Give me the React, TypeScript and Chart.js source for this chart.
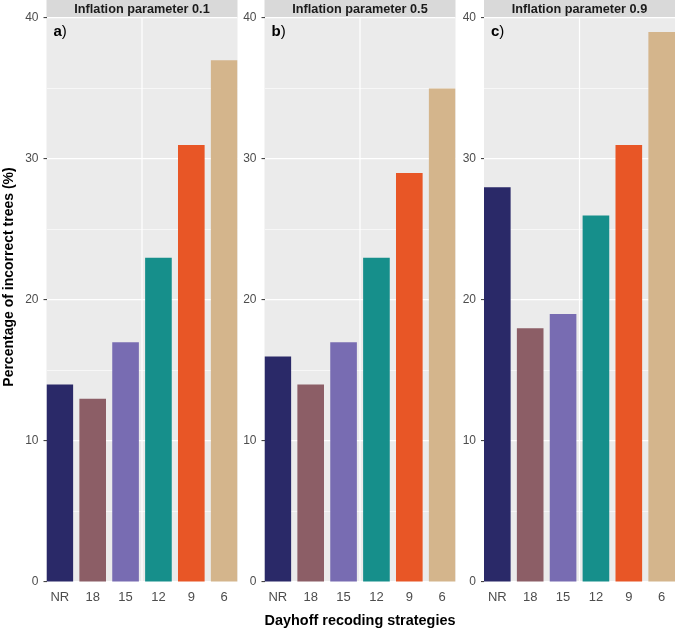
import React, { useEffect, useRef } from 'react';
import { Chart, registerables } from 'chart.js';

Chart.register(...registerables);

// ---------------- data ----------------
const categories = ['NR', '18', '15', '12', '9', '6'];
const panelTitles = ['Inflation parameter 0.1', 'Inflation parameter 0.5', 'Inflation parameter 0.9'];
const panelLetters = ['a', 'b', 'c'];
const valuesInfl01 = [14, 13, 17, 23, 31, 37];
const valuesInfl05 = [16, 14, 17, 23, 29, 35];
const valuesInfl09 = [28, 18, 19, 26, 31, 39];
const barColors = ['#2a2968', '#8c5e66', '#786cb2', '#168f8b', '#e85626', '#d4b58c'];
const yTickValues = [0, 5, 10, 15, 20, 25, 30, 35, 40];
const yAxisTitle = 'Percentage of incorrect trees (%)';
const xAxisTitle = 'Dayhoff recoding strategies';

const seriesByPanel = [valuesInfl01, valuesInfl05, valuesInfl09];

// ---------------- layout ----------------
const FONT = "'Liberation Sans', Arial, Helvetica, sans-serif";
const H = 632;
const PANEL_TOP = 18;
const PANEL_BOTTOM = 582;
const layouts = [
  { canvasLeft: 0, width: 238, axisWidth: 46.5, padRight: 0.5 },
  { canvasLeft: 238, width: 218, axisWidth: 26.5, padRight: 0.5 },
  { canvasLeft: 458, width: 217, axisWidth: 26, padRight: 0 },
];
const HALF_BAR = 0.405;

function makeFacetPlugin(idx: number) {
  return {
    id: 'facet' + idx,
    beforeDraw(chart: any) {
      const { ctx, chartArea: a } = chart;
      ctx.save();
      ctx.fillStyle = '#ebebeb';
      ctx.fillRect(a.left, a.top, a.right - a.left, a.bottom - a.top);
      ctx.fillStyle = '#d9d9d9';
      ctx.fillRect(a.left, 0, a.right - a.left, a.top);
      ctx.fillStyle = '#1a1a1a';
      ctx.font = `bold 12.7px ${FONT}`;
      ctx.textAlign = 'center';
      ctx.textBaseline = 'middle';
      ctx.fillText(panelTitles[idx], (a.left + a.right) / 2, a.top / 2 + 0.5);
      if (idx === 0) {
        ctx.translate(9, 277);
        ctx.rotate(-Math.PI / 2);
        ctx.fillStyle = '#000000';
        ctx.font = `bold 14px ${FONT}`;
        ctx.fillText(yAxisTitle, 0, 0);
      }
      ctx.restore();
    },
    beforeDatasetsDraw(chart: any) {
      const { ctx, chartArea: a } = chart;
      const x = chart.scales.x.getPixelForValue((categories.length - 1) / 2);
      ctx.save();
      ctx.strokeStyle = '#ffffff';
      ctx.lineWidth = 1.2;
      ctx.beginPath();
      ctx.moveTo(x, a.top);
      ctx.lineTo(x, a.bottom);
      ctx.stroke();
      ctx.restore();
    },
    afterDatasetsDraw(chart: any) {
      const { ctx, chartArea: a } = chart;
      ctx.save();
      ctx.fillStyle = '#000000';
      ctx.textAlign = 'left';
      ctx.textBaseline = 'middle';
      ctx.font = `bold 15px ${FONT}`;
      const letter = panelLetters[idx];
      const x0 = a.left + 7;
      ctx.fillText(letter, x0, 32);
      const w = ctx.measureText(letter).width;
      ctx.font = `15px ${FONT}`;
      ctx.fillText(')', x0 + w, 32);
      ctx.restore();
    },
  };
}

function buildConfig(idx: number): any {
  const lay = layouts[idx];
  const vals = seriesByPanel[idx];
  return {
    type: 'bar',
    data: {
      datasets: [
        {
          data: categories.map((_, i) => ({ x: i, y: vals[i] })),
          backgroundColor: barColors,
          borderWidth: 0,
          barPercentage: 1,
          categoryPercentage: 2 * HALF_BAR,
        },
      ],
    },
    options: {
      responsive: false,
      animation: false,
      devicePixelRatio: 1,
      layout: { padding: { top: PANEL_TOP, left: 0, right: lay.padRight, bottom: 0 } },
      plugins: { legend: { display: false }, tooltip: { enabled: false } },
      scales: {
        x: {
          type: 'linear',
          offset: false,
          min: -HALF_BAR,
          max: categories.length - 1 + HALF_BAR,
          afterBuildTicks: (axis: any) => {
            axis.ticks = categories.map((_, i) => ({ value: i }));
          },
          afterFit: (axis: any) => {
            axis.height = H - PANEL_BOTTOM;
          },
          grid: { display: false, drawTicks: false, offset: false },
          border: { display: false },
          ticks: {
            autoSkip: false,
            maxRotation: 0,
            padding: 8,
            color: '#4d4d4d',
            font: { family: FONT, size: 13 },
            callback: (v: any) => categories[Math.round(Number(v))] ?? '',
          },
          title: {
            display: idx === 1,
            text: xAxisTitle,
            color: '#000000',
            font: { family: FONT, size: 15, weight: 'bold' },
            padding: { top: 0, bottom: 2 },
          },
        },
        y: {
          type: 'linear',
          min: 0,
          max: 40,
          afterBuildTicks: (axis: any) => {
            axis.ticks = yTickValues.map((v) => ({ value: v }));
          },
          afterFit: (axis: any) => {
            axis.width = lay.axisWidth;
          },
          grid: {
            color: '#ffffff',
            lineWidth: (c: any) => (c.tick && c.tick.value % 10 === 0 ? 1.2 : 0.6),
            tickColor: (c: any) => (c.tick && c.tick.value % 10 === 0 ? '#333333' : 'rgba(0,0,0,0)'),
            tickLength: 3,
            tickWidth: 1,
          },
          border: { display: false },
          ticks: {
            padding: 5,
            color: '#4d4d4d',
            font: { family: FONT, size: 12 },
            callback: (v: any) => (Number(v) % 10 === 0 ? String(v) : ''),
          },
        },
      },
    },
    plugins: [makeFacetPlugin(idx)],
  };
}

export default function App() {
  const r0 = useRef<HTMLCanvasElement>(null);
  const r1 = useRef<HTMLCanvasElement>(null);
  const r2 = useRef<HTMLCanvasElement>(null);
  const refs = [r0, r1, r2];

  useEffect(() => {
    const charts = refs.map((r, i) => new Chart(r.current as HTMLCanvasElement, buildConfig(i)));
    return () => charts.forEach((c) => c.destroy());
  }, []);

  return (
    <div style={{ position: 'absolute', left: 0, top: 0, width: 675, height: H, background: '#ffffff' }}>
      {layouts.map((lay, i) => (
        <canvas
          key={i}
          ref={refs[i]}
          width={lay.width}
          height={H}
          style={{ position: 'absolute', left: lay.canvasLeft, top: 0, width: lay.width, height: H }}
        />
      ))}
    </div>
  );
}
